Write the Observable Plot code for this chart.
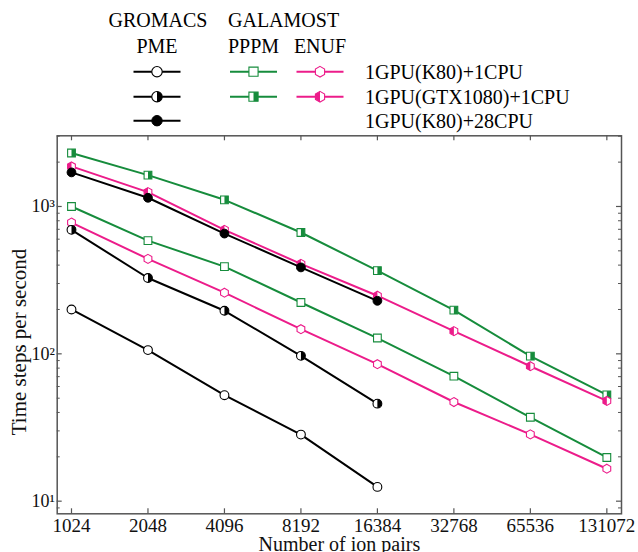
<!DOCTYPE html>
<html>
<head>
<meta charset="utf-8">
<script src="https://cdn.jsdelivr.net/npm/d3@7"></script>
<script src="https://cdn.jsdelivr.net/npm/@observablehq/plot@0.6"></script>
<style>
  html, body { margin: 0; padding: 0; background: #fff; overflow: hidden; }
  svg { display: block; }
</style>
</head>
<body>
<div id="chart"></div>
<script>
// ---------- data ----------
const sizes = [1024, 2048, 4096, 8192, 16384, 32768, 65536, 131072];
const pmeK80     = [200, 106, 52.4, 28.3, 12.5];
const pmeGTX     = [694, 327, 196, 96.9, 45.9];
const pmeK80x28  = [1704, 1146, 655, 386, 229];
const pppmK80    = [1000, 587, 391, 223, 128, 70.5, 37.1, 19.8];
const pppmGTX    = [2305, 1633, 1110, 666, 367, 198, 96.4, 52.6];
const enufK80    = [778, 441, 260, 147, 85.1, 47.1, 28.4, 16.6];
const enufGTX    = [1871, 1252, 694, 408, 248, 142.6, 82.4, 47.9];
const yMajor = [10, 100, 1000];
const yTickLabels = ["10¹", "10²", "10³"];
const yMinor = [9, 20, 30, 40, 50, 60, 70, 80, 90, 200, 300, 400, 500, 600, 700, 800, 900, 2000, 3000];
const groups = ["GROMACS", "GALAMOST"];
const methods = ["PME", "PPPM", "ENUF"];
const platforms = ["1GPU(K80)+1CPU", "1GPU(GTX1080)+1CPU", "1GPU(K80)+28CPU"];
const xLabel = "Number of ion pairs";
const yLabel = "Time steps per second";

// ---------- styling ----------
const FONT = "'Liberation Serif', 'Times New Roman', serif";
const BLACK = "#000000", GREEN = "#168c3c", PINK = "#ec1c8a", AXIS = "#555555";

// custom marker symbols
const sq = Math.sqrt;
const circleFull = {draw(c, s) { const r = sq(s / Math.PI); c.moveTo(r, 0); c.arc(0, 0, r, 0, 2 * Math.PI); c.closePath(); }};
const circleRight = {draw(c, s) { const r = sq(s / Math.PI); c.moveTo(0, -r); c.arc(0, 0, r, -Math.PI / 2, Math.PI / 2); c.closePath(); }};
const squareFull = {draw(c, s) { const h = 0.88 * sq(s / Math.PI); c.moveTo(-h, -h); c.lineTo(h, -h); c.lineTo(h, h); c.lineTo(-h, h); c.closePath(); }};
const squareRight = {draw(c, s) { const h = 0.88 * sq(s / Math.PI); c.moveTo(0, -h); c.lineTo(h, -h); c.lineTo(h, h); c.lineTo(0, h); c.closePath(); }};
const hexFull = {draw(c, s) { const R = 1.02 * sq(s / Math.PI), rx = R * Math.sqrt(3) / 2;
  c.moveTo(0, -R); c.lineTo(rx, -R / 2); c.lineTo(rx, R / 2); c.lineTo(0, R); c.lineTo(-rx, R / 2); c.lineTo(-rx, -R / 2); c.closePath(); }};
const hexLeft = {draw(c, s) { const R = 1.02 * sq(s / Math.PI), rx = R * Math.sqrt(3) / 2;
  c.moveTo(0, -R); c.lineTo(-rx, -R / 2); c.lineTo(-rx, R / 2); c.lineTo(0, R); c.closePath(); }};

// series definitions: values, colour, outline symbol, fill kind
const series = [
  {values: pppmGTX,   color: GREEN, shape: squareFull, half: squareRight, fill: "half"},
  {values: pppmK80,   color: GREEN, shape: squareFull, half: null,        fill: "open"},
  {values: enufK80,   color: PINK,  shape: hexFull,    half: null,        fill: "open"},
  {values: enufGTX,   color: PINK,  shape: hexFull,    half: hexLeft,     fill: "half"},
  {values: pmeK80,    color: BLACK, shape: circleFull, half: null,        fill: "open"},
  {values: pmeGTX,    color: BLACK, shape: circleFull, half: circleRight, fill: "half"},
  {values: pmeK80x28, color: BLACK, shape: circleFull, half: null,        fill: "full"}
];

function seriesMarks(s, r) {
  const rows = s.values.map((v, i) => ({x: sizes[i], y: v}));
  const out = [Plot.line(rows, {x: "x", y: "y", stroke: s.color, strokeWidth: 2})];
  if (s.fill === "full") {
    out.push(Plot.dot(rows, {x: "x", y: "y", r, symbol: s.shape, fill: s.color, stroke: s.color, strokeWidth: 1}));
  } else {
    out.push(Plot.dot(rows, {x: "x", y: "y", r, symbol: s.shape, fill: "white", stroke: s.color, strokeWidth: 1.1}));
    if (s.fill === "half") out.push(Plot.dot(rows, {x: "x", y: "y", r, symbol: s.half, fill: s.color, stroke: "none"}));
  }
  return out;
}

// ---------- legend (above the plot) ----------
const legendH = 128;
const leg = d3.create("svg").attr("width", 638).attr("height", legendH)
  .style("font-family", FONT).style("font-size", "20px").style("overflow", "visible")
  .style("position", "relative").style("z-index", "2");
leg.append("text").attr("x", 158).attr("y", 27).attr("text-anchor", "middle").text(groups[0]);
leg.append("text").attr("x", 228).attr("y", 27).attr("text-anchor", "start").text(groups[1]);
const colX = [157, 253.5, 320];
methods.forEach((m, i) => leg.append("text").attr("x", colX[i]).attr("y", 53).attr("text-anchor", "middle").text(m));
const rowY = [71.7, 96.7, 120.7];
platforms.forEach((p, i) => leg.append("text").attr("x", 365).attr("y", rowY[i] + 7).text(p));
const legItems = [
  {col: 0, row: 0, s: series[4]}, {col: 0, row: 1, s: series[5]}, {col: 0, row: 2, s: series[6]},
  {col: 1, row: 0, s: series[1]}, {col: 1, row: 1, s: series[0]},
  {col: 2, row: 0, s: series[2]}, {col: 2, row: 1, s: series[3]}
];
const rL = 5.2;
legItems.forEach(({col, row, s}) => {
  const cx = colX[col], cy = rowY[row];
  leg.append("line").attr("x1", cx - 23.5).attr("x2", cx + 23.5).attr("y1", cy).attr("y2", cy)
    .attr("stroke", s.color).attr("stroke-width", 2);
  const g = leg.append("g").attr("transform", `translate(${cx},${cy})`);
  const sym = t => d3.symbol().type(t).size(Math.PI * rL * rL)();
  if (s.fill === "full") {
    g.append("path").attr("d", sym(s.shape)).attr("fill", s.color).attr("stroke", s.color);
  } else {
    g.append("path").attr("d", sym(s.shape)).attr("fill", "white").attr("stroke", s.color).attr("stroke-width", 1.1);
    if (s.fill === "half") g.append("path").attr("d", sym(s.half)).attr("fill", s.color);
  }
});

// ---------- plot ----------
const H = 424, mT = 7.3, mB = 38.7, mL = 56.7, mR = 17;
const fh = H - mT - mB, fw = 638 - mL - mR;

const marks = [
  Plot.frame({stroke: AXIS, strokeWidth: 1.5}),
  // inward ticks
  Plot.tickX(sizes, {x: d => d, stroke: AXIS, strokeWidth: 1.2, insetTop: fh - 5}),
  Plot.tickX(sizes, {x: d => d, stroke: AXIS, strokeWidth: 1.2, insetBottom: fh - 5}),
  Plot.tickY(yMajor, {y: d => d, stroke: AXIS, strokeWidth: 1.2, insetRight: fw - 5}),
  Plot.tickY(yMajor, {y: d => d, stroke: AXIS, strokeWidth: 1.2, insetLeft: fw - 5}),
  Plot.tickY(yMinor, {y: d => d, stroke: AXIS, strokeWidth: 1, insetRight: fw - 3}),
  Plot.tickY(yMinor, {y: d => d, stroke: AXIS, strokeWidth: 1, insetLeft: fw - 3}),
  Plot.axisX({ticks: sizes, tickFormat: d => String(d), tickSize: 0, tickPadding: 5, fontSize: 19, label: null, fill: "#111"}),
  Plot.axisY({ticks: yMajor, tickFormat: d => yTickLabels[yMajor.indexOf(d)], tickSize: 0, tickPadding: 2.3, fontSize: 18, label: null, fill: "#111"}),
  Plot.text([xLabel], {frameAnchor: "bottom", lineAnchor: "middle", textAnchor: "middle", dy: 30.3, fontSize: 20, fill: "#111", text: d => d}),
  Plot.text([yLabel], {frameAnchor: "left", lineAnchor: "middle", textAnchor: "middle", dx: -38.4, dy: 17.2, rotate: -90, fontSize: 21, fill: "#111", text: d => d})
];
series.forEach(s => marks.push(...seriesMarks(s, 4.4)));

const plot = Plot.plot({
  width: 638, height: H,
  marginTop: mT, marginBottom: mB, marginLeft: mL, marginRight: mR,
  x: {type: "log", base: 2, domain: [899.6, 149700], axis: null},
  y: {type: "log", domain: [8.21, 3018], axis: null},
  style: {fontFamily: FONT, background: "transparent", overflow: "visible"},
  marks
});

const root = document.getElementById("chart");
root.appendChild(leg.node());
root.appendChild(plot);
</script>
</body>
</html>
